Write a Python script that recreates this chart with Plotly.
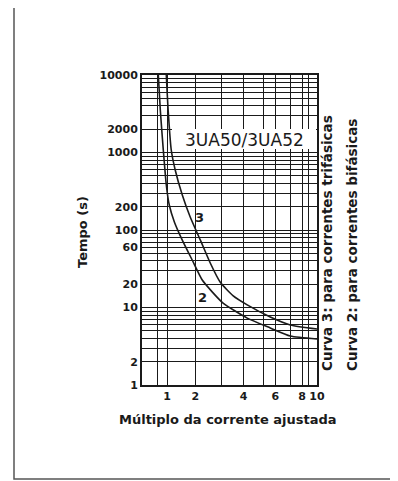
import numpy as np
import plotly.graph_objects as go

# ---------------- data ----------------
curve3_x = [0.986, 1.04, 1.15, 1.29, 1.54, 1.82, 2.19, 2.56, 2.93, 3.52, 4.18, 5.57, 7.0, 10.0]
curve3_t = [10000, 3535, 1077, 595, 283, 147, 74, 37.5, 21.3, 14.1, 10.8, 7.54, 5.95, 5.28]
curve2_x = [0.826, 0.866, 0.926, 0.986, 1.08, 1.26, 1.54, 1.89, 2.26, 2.64, 3.05, 4.18, 5.57, 7.0, 10.0]
curve2_t = [10000, 3535, 1077, 381, 210, 127, 74, 41, 22.6, 15.8, 11.4, 7.3, 5.44, 4.28, 3.92]

x_tick_vals = [1, 2, 4, 6, 8, 10]
x_tick_text = ["1", "2", "4", "6", "8", "10"]
y_tick_vals = [1, 2, 10, 20, 60, 100, 200, 1000, 2000, 10000]
y_tick_text = ["1", "2", "10", "20", "60", "100", "200", "1000", "2000", "10000"]

# non-linear current scale of the printed chart (value -> axis fraction)
scale_vals = [0.5, 0.8, 1, 2, 3, 4, 5, 6, 7, 8, 9, 10]
scale_frac = [0.0, 0.0857, 0.1429, 0.3046, 0.4571, 0.5806, 0.6949, 0.7617, 0.8474, 0.9143, 0.9520, 1.0]


def xs(v):
    return np.interp(np.asarray(v, dtype=float), scale_vals, scale_frac)


x_grid = [0.8, 1, 2, 3, 4, 5, 6, 7, 8, 9]
y_grid = [m * 10 ** d for d in range(4) for m in range(1, 10)] + [10000]

INK = "#1a1a1a"
FONT = "DejaVu Sans"

fig = go.Figure()
for cx, ct in [(curve3_x, curve3_t), (curve2_x, curve2_t)]:
    fig.add_trace(go.Scatter(x=xs(cx), y=ct, mode="lines",
                             line=dict(color=INK, width=1.6, shape="spline", smoothing=0.6),
                             showlegend=False, hoverinfo="skip"))

OFF = 8  # page body margin
W, H = 398 - OFF, 481 - OFF
PL, PR, PT, PB = 142, 317, 75, 385  # plot area in window pixels
L, T = PL - OFF, PT - OFF
pw, ph = PR - PL, PB - PT
R, B = W - L - pw, H - T - ph


def px(x):
    return (x - PL) / pw


def py(y):
    return (PB - y) / ph


fig.update_layout(
    width=W, height=H,
    margin=dict(l=L, r=R, t=T, b=B, pad=0),
    paper_bgcolor="white", plot_bgcolor="white",
    font=dict(family=FONT, color=INK, size=12),
    xaxis=dict(range=[0, 1], tickvals=list(xs(x_tick_vals)), ticktext=x_tick_text,
               showgrid=False, zeroline=False, ticks="", ticklen=0,
               showline=True, mirror=True, linecolor=INK, linewidth=2,
               tickfont=dict(size=11, family=FONT, color=INK, weight="bold"),
               minor=dict(tickvals=list(xs(x_grid)), showgrid=True, gridcolor=INK, gridwidth=1.4, ticks="")),
    yaxis=dict(type="log", range=[0, 4], tickvals=y_tick_vals, ticktext=y_tick_text,
               showgrid=False, zeroline=False, ticks="", ticklen=0,
               showline=True, mirror=True, linecolor=INK, linewidth=2,
               tickfont=dict(size=11, family=FONT, color=INK, weight="bold"),
               minor=dict(tickvals=y_grid, showgrid=True, gridcolor=INK, gridwidth=1.4, ticks="")),
)

shapes = [
    # outer frame
    dict(type="rect", xref="paper", yref="paper", x0=px(14), x1=px(397), y0=py(479), y1=py(7),
         line=dict(color="#555", width=1.5), fillcolor="rgba(0,0,0,0)", layer="below"),
    # white label band
    dict(type="rect", xref="paper", yref="paper", x0=px(172), x1=px(316), y0=py(149), y1=py(129),
         line=dict(width=0), fillcolor="white", layer="above"),
]
fig.update_layout(shapes=shapes)

ann = [
    dict(text="3UA50/3UA52", x=px(244), y=py(140), xref="paper", yref="paper", showarrow=False,
         font=dict(size=17, family=FONT, color=INK), xanchor="center", yanchor="middle"),
    dict(text="Tempo (s)", x=px(82), y=py(232), xref="paper", yref="paper", showarrow=False,
         textangle=-90, font=dict(size=13, family=FONT, color=INK, weight="bold"),
         xanchor="center", yanchor="middle"),
    dict(text="Múltiplo da corrente ajustada", x=px(228), y=py(420), xref="paper", yref="paper",
         showarrow=False, font=dict(size=13, family=FONT, color=INK, weight="bold"),
         xanchor="center", yanchor="middle"),
    dict(text="Curva 3: para correntes trifásicas", x=px(327), y=py(373), xref="paper", yref="paper",
         showarrow=False, textangle=-90, font=dict(size=13.5, family=FONT, color=INK, weight="bold"),
         xanchor="center", yanchor="bottom"),
    dict(text="Curva 2: para correntes bifásicas", x=px(352), y=py(373), xref="paper", yref="paper",
         showarrow=False, textangle=-90, font=dict(size=13.5, family=FONT, color=INK, weight="bold"),
         xanchor="center", yanchor="bottom"),
    dict(text="3", x=float(xs(2.15)), y=np.log10(143), xref="x", yref="y", showarrow=False,
         font=dict(size=13, family=FONT, color=INK, weight="bold")),
    dict(text="2", x=float(xs(2.26)), y=np.log10(13.3), xref="x", yref="y", showarrow=False,
         font=dict(size=13, family=FONT, color=INK, weight="bold")),
]
fig.update_layout(annotations=ann)

fig.write_html("out.html")
